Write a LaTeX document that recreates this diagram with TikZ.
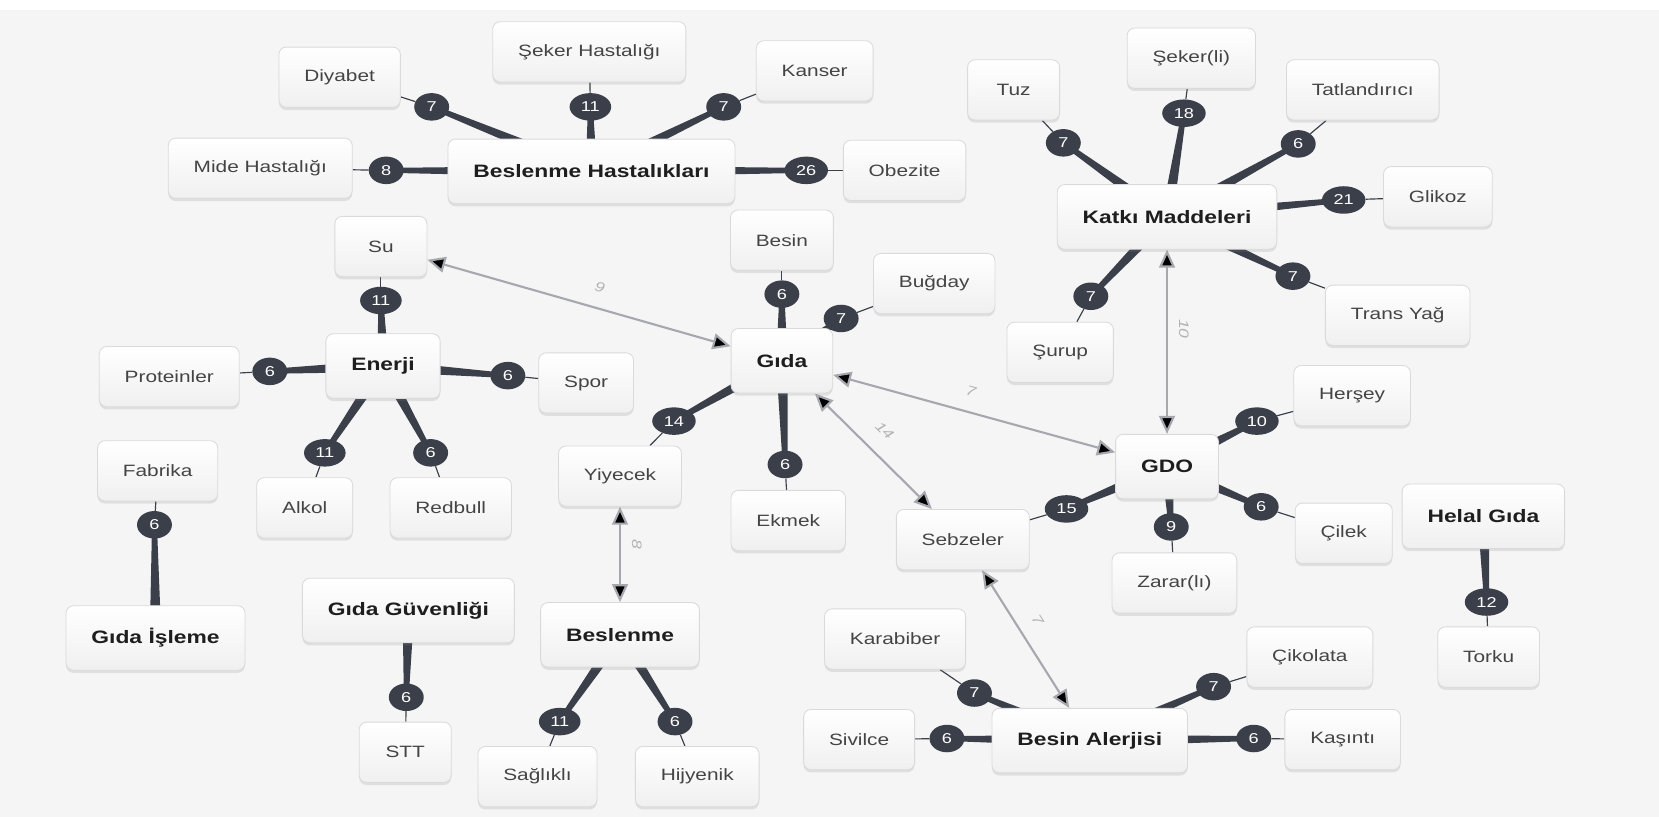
\documentclass[tikz,border=0pt]{standalone}
\usepackage{fontspec}
\setmainfont{Liberation Sans}[FakeStretch=1.27]
\usetikzlibrary{arrows.meta,calc,shadows,shapes.geometric}

\definecolor{slate}{HTML}{3A3F4A}
\definecolor{paper}{HTML}{F5F5F5}
\definecolor{arrowgray}{HTML}{A7A8AF}
\definecolor{inkleaf}{HTML}{444444}
\definecolor{inkhub}{HTML}{1E1E1E}
\definecolor{rimgray}{HTML}{DADADA}
\definecolor{lblgray}{HTML}{B3B3B3}

\newcommand{\leaffont}{\fontsize{15.5}{18}\selectfont}
\newcommand{\hubfont}{\fontsize{17}{20}\selectfont\bfseries}
\newcommand{\badgefont}{\fontsize{13.5}{15}\selectfont}
\newcommand{\lblfont}{\fontsize{13}{15}\selectfont\itshape}

\pgfdeclarelayer{back}
\pgfdeclarelayer{wires}
\pgfsetlayers{back,wires,main}

\tikzset{
  leaf/.style={rectangle, rounded corners=7pt, draw=rimgray, line width=.8pt,
    top color=white, bottom color=black!6,
    drop shadow={shadow xshift=0pt, shadow yshift=-2.5pt, opacity=.18},
    minimum width=87pt, minimum height=57pt, inner xsep=24pt,
    text=inkleaf, font=\leaffont},
  hub/.style={leaf, minimum height=61pt, text=inkhub, font=\hubfont},
  badge/.style={ellipse, fill=slate, text=white, font=\badgefont,
    minimum width=33pt, minimum height=26pt, inner xsep=5pt, inner ysep=0pt},
  twig/.style={draw=slate, line width=1.1pt},
  spoke/.style={every edge/.style={fill=slate, draw=none,
    to path={($(\tikztostart)!5.5pt!90:(\tikztotarget)$)
      -- ($(\tikztotarget)!2.3pt!-90:(\tikztostart)$)
      -- ($(\tikztotarget)!2.3pt!90:(\tikztostart)$)
      -- ($(\tikztostart)!5.5pt!-90:(\tikztotarget)$) -- cycle}}},
  link/.style={draw=arrowgray, line width=2pt,
    arrows={Triangle[length=17pt,width=15pt]-Triangle[length=17pt,width=15pt]}},
  lbl/.style={text=lblgray, font=\lblfont, inner sep=1pt}
}

\begin{document}
\begin{tikzpicture}[x=1pt,y=-1pt]
\useasboundingbox (0,0) rectangle (1568,772);
\begin{pgfonlayer}{back}
\fill[paper] (0,0) rectangle (1568,772);
\fill[white] (0,0) rectangle (1568,9);
\end{pgfonlayer}

\node(bh) at (559,162)[hub]          {Beslenme Hastalıkları};
\node(katki) at (1103,205)[hub]      {Katkı Maddeleri};
\node(enerji) at (362,346)[hub]      {Enerji};
\node(gida) at (739,341)[hub]        {Gıda};
\node(gdo) at (1103,441)[hub]        {GDO};
\node(isleme) at (147,603)[hub]      {Gıda İşleme};
\node(guvenlik) at (386,577)[hub]    {Gıda Güvenliği};
\node(beslenme) at (586,600)[hub]    {Beslenme};
\node(helal) at (1402,488)[hub]      {Helal Gıda};
\node(alerji) at (1030,700)[hub]     {Besin Alerjisi};

\node(diyabet) at (321,73)[leaf]     {Diyabet};
\node(sekerh) at (557,49)[leaf]      {Şeker Hastalığı};
\node(kanser) at (770,67)[leaf]      {Kanser};
\node(mide) at (246,159)[leaf]       {Mide Hastalığı};
\node(obezite) at (855,161)[leaf]    {Obezite};
\node(tuz) at (958,85)[leaf]         {Tuz};
\node(sekerli) at (1126,55)[leaf]    {Şeker(li)};
\node(tatli) at (1288,85)[leaf]      {Tatlandırıcı};
\node(glikoz) at (1359,186)[leaf]    {Glikoz};
\node(trans) at (1321,298)[leaf]     {Trans Yağ};
\node(surup) at (1002,333)[leaf]     {Şurup};
\node(su) at (360,233)[leaf]         {Su};
\node(protein) at (160,356)[leaf]    {Proteinler};
\node(spor) at (554,362)[leaf]       {Spor};
\node(alkol) at (288,480)[leaf]      {Alkol};
\node(redbull) at (426,480)[leaf]    {Redbull};
\node(fabrika) at (149,445)[leaf]    {Fabrika};
\node(besin) at (739,227)[leaf]      {Besin};
\node(bugday) at (883,268)[leaf]     {Buğday};
\node(yiyecek) at (586,450)[leaf]    {Yiyecek};
\node(ekmek) at (745,492)[leaf]      {Ekmek};
\node(saglikli) at (508,734)[leaf]   {Sağlıklı};
\node(hijyenik) at (659,734)[leaf]   {Hijyenik};
\node(stt) at (383,711)[leaf]        {STT};
\node(hersey) at (1278,374)[leaf]    {Herşey};
\node(cilek) at (1270,504)[leaf]     {Çilek};
\node(zarar) at (1110,551)[leaf]     {Zarar(lı)};
\node(sebze) at (910,510)[leaf]      {Sebzeler};
\node(torku) at (1407,621)[leaf]     {Torku};
\node(karabiber) at (846,604)[leaf]  {Karabiber};
\node(cikolata) at (1238,621)[leaf]  {Çikolata};
\node(sivilce) at (812,699)[leaf]    {Sivilce};
\node(kasinti) at (1269,699)[leaf]   {Kaşıntı};

\node(diyabetn) at (408,101)[badge]   {7};
\node(sekerhn) at (558,101)[badge]    {11};
\node(kansern) at (684,101)[badge]    {7};
\node(miden) at (365,161)[badge]      {8};
\node(obeziten) at (762,161)[badge]   {26};
\node(tuzn) at (1005,135)[badge]      {7};
\node(sekerlin) at (1119,107)[badge]  {18};
\node(tatlin) at (1227,136)[badge]    {6};
\node(glikozn) at (1270,189)[badge]   {21};
\node(transn) at (1222,261)[badge]    {7};
\node(surupn) at (1031,280)[badge]    {7};
\node(sun) at (360,284)[badge]        {11};
\node(proteinn) at (255,351)[badge]   {6};
\node(sporn) at (480,355)[badge]      {6};
\node(alkoln) at (307,428)[badge]     {11};
\node(redbulln) at (407,428)[badge]   {6};
\node(fabrikan) at (146,496)[badge]   {6};
\node(besinn) at (739,278)[badge]     {6};
\node(bugdayn) at (795,301)[badge]    {7};
\node(yiyecekn) at (637,398)[badge]   {14};
\node(ekmekn) at (742,439)[badge]     {6};
\node(sagliklin) at (529,682)[badge]  {11};
\node(hijyenikn) at (638,682)[badge]  {6};
\node(sttn) at (384,659)[badge]       {6};
\node(herseyn) at (1188,398)[badge]   {10};
\node(cilekn) at (1192,479)[badge]    {6};
\node(zararn) at (1107,498)[badge]    {9};
\node(sebzen) at (1008,481)[badge]    {15};
\node(torkun) at (1405,569)[badge]    {12};
\node(karabibern) at (921,655)[badge] {7};
\node(cikolatan) at (1147,649)[badge] {7};
\node(sivilcen) at (895,698)[badge]   {6};
\node(kasintin) at (1185,698)[badge]  {6};

\begin{pgfonlayer}{wires}
\path [spoke]
  (bh)        edge  (diyabetn)
  (bh)        edge  (sekerhn)
  (bh)        edge  (kansern)
  (bh)        edge  (miden)
  (bh)        edge  (obeziten)
  (katki)     edge  (tuzn)
  (katki)     edge  (sekerlin)
  (katki)     edge  (tatlin)
  (katki)     edge  (glikozn)
  (katki)     edge  (transn)
  (katki)     edge  (surupn)
  (enerji)    edge  (sun)
  (enerji)    edge  (proteinn)
  (enerji)    edge  (sporn)
  (enerji)    edge  (alkoln)
  (enerji)    edge  (redbulln)
  (isleme)    edge  (fabrikan)
  (gida)      edge  (besinn)
  (gida)      edge  (bugdayn)
  (gida)      edge  (yiyecekn)
  (gida)      edge  (ekmekn)
  (beslenme)  edge  (sagliklin)
  (beslenme)  edge  (hijyenikn)
  (guvenlik)  edge  (sttn)
  (gdo)       edge  (herseyn)
  (gdo)       edge  (cilekn)
  (gdo)       edge  (zararn)
  (gdo)       edge  (sebzen)
  (helal)     edge  (torkun)
  (alerji)    edge  (karabibern)
  (alerji)    edge  (cikolatan)
  (alerji)    edge  (sivilcen)
  (alerji)    edge  (kasintin);

\path [twig]
  (diyabetn)   edge  (diyabet)
  (sekerhn)    edge  (sekerh)
  (kansern)    edge  (kanser)
  (miden)      edge  (mide)
  (obeziten)   edge  (obezite)
  (tuzn)       edge  (tuz)
  (sekerlin)   edge  (sekerli)
  (tatlin)     edge  (tatli)
  (glikozn)    edge  (glikoz)
  (transn)     edge  (trans)
  (surupn)     edge  (surup)
  (sun)        edge  (su)
  (proteinn)   edge  (protein)
  (sporn)      edge  (spor)
  (alkoln)     edge  (alkol)
  (redbulln)   edge  (redbull)
  (fabrikan)   edge  (fabrika)
  (besinn)     edge  (besin)
  (bugdayn)    edge  (bugday)
  (yiyecekn)   edge  (yiyecek)
  (ekmekn)     edge  (ekmek)
  (sagliklin)  edge  (saglikli)
  (hijyenikn)  edge  (hijyenik)
  (sttn)       edge  (stt)
  (herseyn)    edge  (hersey)
  (cilekn)     edge  (cilek)
  (zararn)     edge  (zarar)
  (sebzen)     edge  (sebze)
  (torkun)     edge  (torku)
  (karabibern) edge  (karabiber)
  (cikolatan)  edge  (cikolata)
  (sivilcen)   edge  (sivilce)
  (kasintin)   edge  (kasinti);

\path [link]
  (su)       edge  node [lbl, pos=.55, above=13pt, sloped]     {9}   (gida)
  (gida)     edge  node [lbl, pos=.47, above=13pt, sloped]     {7}   (gdo)
  (gida)     edge  node [lbl, pos=.46, above=15pt, sloped]     {14}  (sebze)
  (katki)    edge  node [lbl, pos=.43, xshift=16pt, rotate=-90] {10} (gdo)
  (yiyecek)  edge  node [lbl, pos=.39, xshift=16pt, rotate=-90] {8}  (beslenme)
  (sebze)    edge  node [lbl, pos=.44, above=13pt, sloped]     {7}   (alerji);
\end{pgfonlayer}
\end{tikzpicture}
\end{document}
